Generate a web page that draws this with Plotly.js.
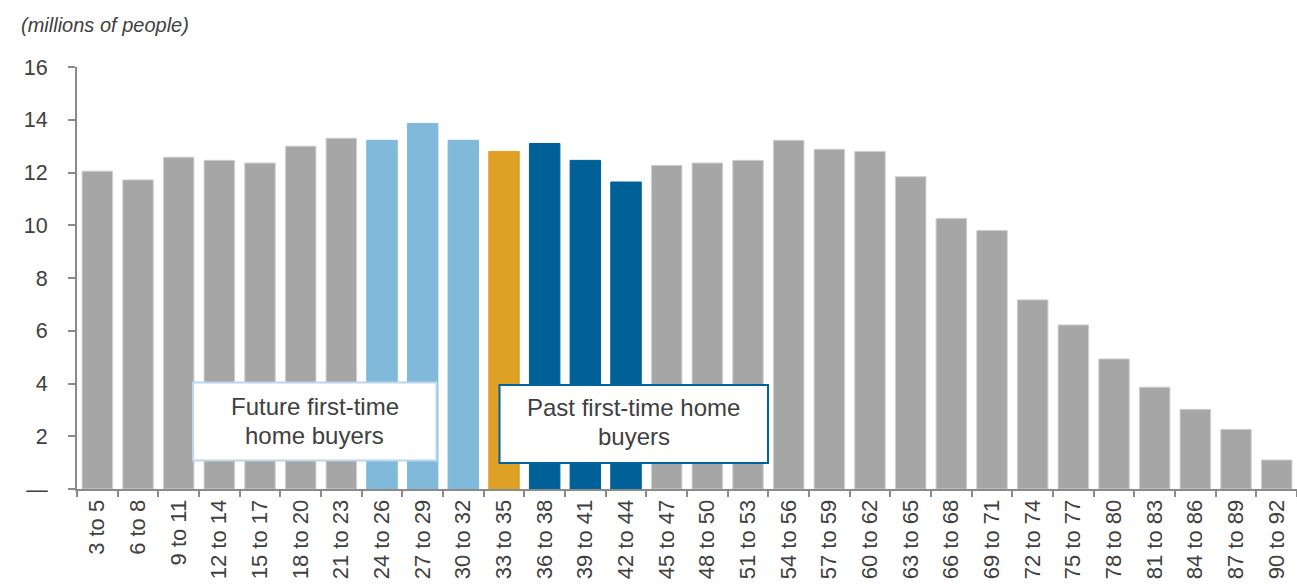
<!DOCTYPE html>
<html>
<head>
<meta charset="utf-8">
<script src="https://cdn.plot.ly/plotly-3.0.1.min.js"></script>
<style>
html,body{margin:0;padding:0;background:#fff;}
#chart{width:1297px;height:586px;}
</style>
</head>
<body>
<div id="chart"></div>
<script>
// Age groups (categories)
const ageGroups = ["3 to 5","6 to 8","9 to 11","12 to 14","15 to 17","18 to 20","21 to 23","24 to 26","27 to 29","30 to 32","33 to 35","36 to 38","39 to 41","42 to 44","45 to 47","48 to 50","51 to 53","54 to 56","57 to 59","60 to 62","63 to 65","66 to 68","69 to 71","72 to 74","75 to 77","78 to 80","81 to 83","84 to 86","87 to 89","90 to 92"];
// Population, millions of people
const population = [12.05,11.72,12.58,12.46,12.36,13.0,13.3,13.22,13.86,13.22,12.8,13.1,12.46,11.64,12.27,12.36,12.46,13.22,12.88,12.8,11.84,10.26,9.8,7.17,6.22,4.93,3.86,3.02,2.26,1.1];
// Group of each bar: g = other, f = future first-time buyers, c = current, p = past first-time buyers
const groups = ["g","g","g","g","g","g","g","f","f","f","c","p","p","p","g","g","g","g","g","g","g","g","g","g","g","g","g","g","g","g"];
const yTickVals = [0,2,4,6,8,10,12,14,16];
const yTickText = ["—","2","4","6","8","10","12","14","16"];
const futureLines = ["Future first-time","home buyers"];
const pastLines = ["Past first-time home","buyers"];

const palette = {g:"#a6a6a6", f:"#80b9d9", c:"#dfa026", p:"#006098"};
const edge = {g:"#cfcfcf", f:"#80b9d9", c:"#dfa026", p:"#006098"};

const trace = {
  type:"bar",
  x: ageGroups,
  y: population,
  marker:{
    color: groups.map(g=>palette[g]),
    line:{color: groups.map(g=>edge[g]), width:1}
  },
  hoverinfo:"x+y"
};

const axisColor = "#8a8a8a";
const textColor = "#404040";
const font = "Liberation Sans, Arial, sans-serif";

// pixel -> paper helpers for the plot area (l=77, width 1220, t=67, height 422)
const px = v => (v-77)/1220;
const py = v => (489-v)/422;

function lineAnn(text, cx, cy){
  return {xref:"paper", yref:"paper", x:px(cx), y:py(cy), xanchor:"center", yanchor:"middle",
    text:text, showarrow:false, font:{family:font, size:24, color:textColor}};
}

const layout = {
  width:1297, height:586,
  margin:{l:77, r:0, t:67, b:97, pad:0},
  paper_bgcolor:"#fff", plot_bgcolor:"#fff",
  bargap:0.25,
  showlegend:false,
  font:{family:font, color:textColor, size:22},
  xaxis:{
    type:"category",
    range:[-0.5,29.5],
    showline:true, linecolor:axisColor, linewidth:2,
    ticks:"outside", ticklen:6, tickwidth:2, tickcolor:axisColor,
    tickson:"boundaries",
    tickangle:-90,
    tickfont:{family:font, size:22, color:textColor},
    showgrid:false, zeroline:false,
    fixedrange:true
  },
  yaxis:{
    range:[0,16],
    tickvals:yTickVals, ticktext:yTickText,
    showline:true, linecolor:axisColor, linewidth:2,
    ticks:"outside", ticklen:7, tickwidth:2, tickcolor:axisColor,
    ticklabelstandoff:16,
    tickfont:{family:font, size:21.5, color:textColor},
    showgrid:false, zeroline:false,
    fixedrange:true
  },
  shapes:[
    {type:"rect", xref:"paper", yref:"paper", layer:"above",
     x0:px(193), x1:px(436.5), y0:py(460.5), y1:py(382.5),
     fillcolor:"#ffffff", line:{color:"#bcd6ee", width:2}},
    {type:"rect", xref:"paper", yref:"paper", layer:"above",
     x0:px(499.5), x1:px(768), y0:py(463), y1:py(385),
     fillcolor:"#ffffff", line:{color:"#00629b", width:2}}
  ],
  annotations:[
    {
      xref:"paper", yref:"paper",
      x:px(19), y:py(25),
      xanchor:"left", yanchor:"middle",
      text:"<i>(millions of people)</i>",
      showarrow:false,
      font:{family:font, size:20, color:textColor}
    },
    lineAnn(futureLines[0], 314.7, 406.5),
    lineAnn(futureLines[1], 314.7, 435),
    lineAnn(pastLines[0], 633.8, 407.5),
    lineAnn(pastLines[1], 633.8, 436)
  ]
};

Plotly.newPlot("chart",[trace],layout,{displayModeBar:false, staticPlot:true});
</script>
</body>
</html>
